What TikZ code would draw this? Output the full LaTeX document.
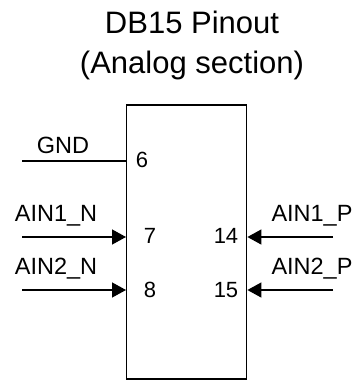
\documentclass[tikz,border=0pt]{standalone}
\usepackage{fontspec}
\setmainfont{Liberation Sans}
\usetikzlibrary{arrows.meta}

\tikzset{
  pinlabel/.style={anchor=base, font=\fontsize{23.5}{26}\selectfont},
  pinnum/.style={anchor=base, font=\fontsize{22}{24}\selectfont},
  pinwire/.style={line width=1.4pt},
  pinarrow/.style={line width=1.4pt, -{Triangle[length=14pt,width=15pt]}}
}

\begin{document}
\begin{tikzpicture}[x=1pt, y=-1pt]
  \useasboundingbox (0, 0) rectangle (355, 381);

  % Title
  \node[anchor=base, font=\fontsize{31}{34}\selectfont] (title1) at (192, 33) {DB15 Pinout};
  \node[anchor=base, font=\fontsize{31}{34}\selectfont] (title2) at (192, 73) {(Analog section)};

  % Connector body
  \node[draw, line width=1.4pt, minimum width=120pt, minimum height=274pt,
        inner sep=0pt] (conn) at (186.7, 242) {};

  % Pin ends on the body
  \coordinate (p6) at (conn.west |- 0, 161);
  \coordinate (p7) at (conn.west |- 0, 237);
  \coordinate (p8) at (conn.west |- 0, 290);
  \coordinate (p14) at (conn.east |- 0, 237);
  \coordinate (p15) at (conn.east |- 0, 290);
  % Free wire ends
  \coordinate (w6) at (22, 161);
  \coordinate (w7) at (22, 237);
  \coordinate (w8) at (22, 290);
  \coordinate (w14) at (333, 237);
  \coordinate (w15) at (333, 290);

  % Left side
  \node[pinlabel] (gnd) at (63, 153) {GND};
  \node[pinlabel] (ain1n) at (56, 221) {AIN1\_N};
  \node[pinlabel] (ain2n) at (56, 274) {AIN2\_N};
  \node[pinnum] (n6) at (142, 167) {6};
  \node[pinnum] (n7) at (150, 243) {7};
  \node[pinnum] (n8) at (150, 297) {8};
  \draw[pinwire] (w6) -- (p6);
  \draw[pinarrow] (w7) -- (p7);
  \draw[pinarrow] (w8) -- (p8);

  % Right side
  \node[pinlabel] (ain1p) at (312, 221) {AIN1\_P};
  \node[pinlabel] (ain2p) at (312, 274) {AIN2\_P};
  \node[pinnum] (n14) at (226, 243) {14};
  \node[pinnum] (n15) at (226, 297) {15};
  \draw[pinarrow] (w14) -- (p14);
  \draw[pinarrow] (w15) -- (p15);
\end{tikzpicture}
\end{document}
